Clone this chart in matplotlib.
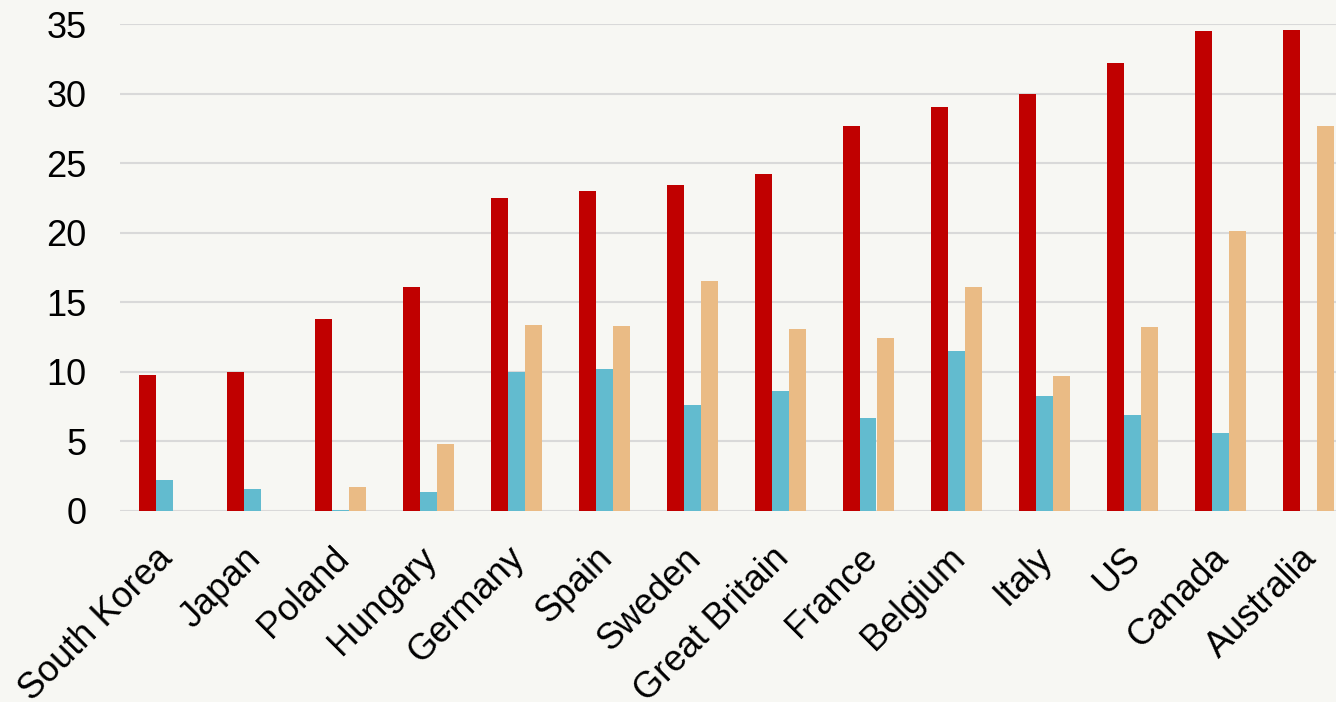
import numpy as np
import matplotlib
matplotlib.use("Agg")
import matplotlib.pyplot as plt
import matplotlib.transforms as mtransforms

countries = ["South Korea", "Japan", "Poland", "Hungary", "Germany", "Spain", "Sweden",
             "Great Britain", "France", "Belgium", "Italy", "US", "Canada", "Australia"]
red_vals = [9.8, 10.0, 13.8, 16.1, 22.5, 23.0, 23.4, 24.2, 27.7, 29.0, 30.0, 32.2, 34.5, 34.6]
blue_vals = [2.2, 1.6, 0.1, 1.4, 10.0, 10.2, 7.6, 8.6, 6.7, 11.5, 8.3, 6.9, 5.6, 0.0]
tan_vals = [0.0, 0.0, 1.7, 4.8, 13.4, 13.3, 16.5, 13.1, 12.4, 16.1, 9.7, 13.2, 20.1, 27.7]
yticks = [0, 5, 10, 15, 20, 25, 30, 35]

BG = "#F7F7F3"
plt.rcParams["font.family"] = ["Liberation Sans", "DejaVu Sans"]

fig = plt.figure(figsize=(13.36, 7.02), dpi=100, facecolor=BG)
ax = fig.add_axes([120 / 1336, 191 / 702, 1216 / 1336, 487 / 702], facecolor=BG)

x = np.arange(len(countries))
w = 17 / 88
ax.bar(x - w, red_vals, w, color="#C00000", zorder=3)
ax.bar(x, blue_vals, w, color="#62BBCF", zorder=3)
ax.bar(x + w, tan_vals, w, color="#EABB85", zorder=3)

ax.set_xlim(-0.5, -0.5 + 1216 / 88)
ax.set_ylim(0, 35)
ax.set_yticks(yticks)
ax.yaxis.grid(True, color="#D9D9D9", linewidth=1.5, zorder=0)
ax.set_axisbelow(True)
for s in ax.spines.values():
    s.set_visible(False)

ax.tick_params(axis="y", length=0, pad=24, labelsize=26)
ax.tick_params(axis="x", length=0, pad=14, labelsize=26)
ax.set_xticks(x)
ax.set_xticklabels(countries, rotation=45, ha="right", rotation_mode="anchor")

# nudge the slanted country names a little left and down
shift = mtransforms.ScaledTranslation(-9 / 100, -10 / 100, fig.dpi_scale_trans)
for lbl in ax.get_xticklabels():
    lbl.set_transform(lbl.get_transform() + shift)

fig.savefig("out.png", dpi=100, facecolor=BG)
